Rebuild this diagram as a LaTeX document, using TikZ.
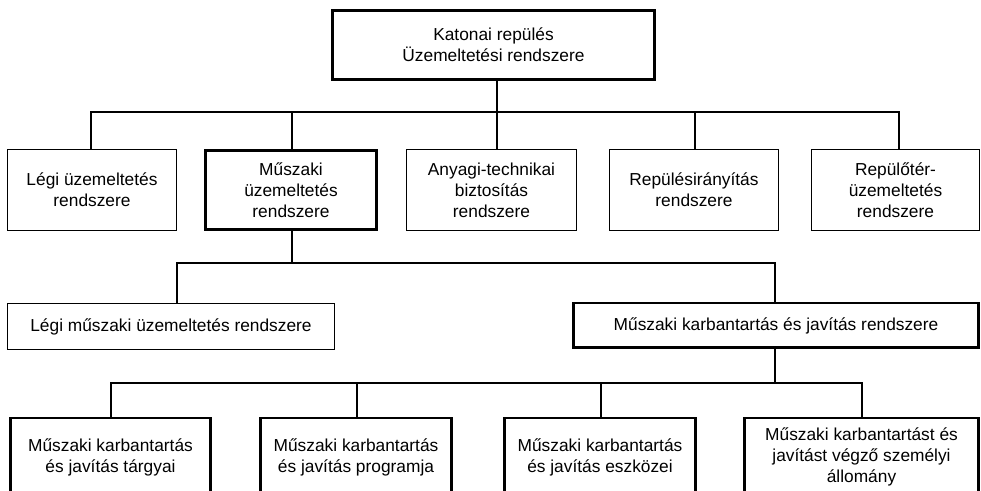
\documentclass[tikz,border=0pt]{standalone}
\usepackage{fontspec}
\setmainfont{Liberation Sans}
\tikzset{
  box/.style={draw, line width=0.8pt, align=center, inner sep=0pt, font=\fontsize{13}{15.75}\selectfont},
  tbox/.style={box, line width=2.2pt},
  mbox/.style={box, line width=1.9pt},
  thinline/.style={line width=0.8pt},
  thkline/.style={line width=2.2pt},
  mline/.style={line width=1.9pt},
}
\begin{document}
\begin{tikzpicture}[x=0.75pt,y=-0.75pt]
\useasboundingbox (0,0) rectangle (981,491);
\clip (0,0) rectangle (981,491);
% nodes
\node[tbox, minimum width=241.5pt, minimum height=51.75pt] (top) at (493.5,45) {Katonai repülés\\Üzemeltetési rendszere};
\node[box, minimum width=126.75pt, minimum height=60.75pt] (legi) at (92,190) {Légi üzemeltetés\\rendszere};
\node[tbox, minimum width=128.25pt, minimum height=59.25pt] (musz) at (291,190) {Műszaki\\üzemeltetés\\rendszere};
\node[box, minimum width=127.5pt, minimum height=60.75pt] (anyag) at (491.5,190) {Anyagi-technikai\\biztosítás\\rendszere};
\node[box, minimum width=126.75pt, minimum height=60.75pt] (repir) at (694,190) {Repülésirányítás\\rendszere};
\node[box, minimum width=126pt, minimum height=60.75pt] (rept) at (895.5,190) {Repülőtér-\\üzemeltetés\\rendszere};
\node[box, minimum width=245.25pt, minimum height=34.5pt] (legimu) at (171,326.5) {Légi műszaki üzemeltetés rendszere};
\node[mbox, minimum width=304pt, minimum height=33.4pt] (mkj) at (776,325.5) {Műszaki karbantartás és javítás rendszere};
\node[tbox, minimum width=150pt, minimum height=58.5pt] (b1) at (110.5,457) {Műszaki karbantartás\\és javítás tárgyai};
\node[tbox, minimum width=143.25pt, minimum height=58.5pt] (b2) at (356,457) {Műszaki karbantartás\\és javítás programja};
\node[tbox, minimum width=143.25pt, minimum height=58.5pt] (b3) at (600,457) {Műszaki karbantartás\\és javítás eszközei};
\node[tbox, minimum width=175.5pt, minimum height=58.5pt] (b4) at (861.5,457) {Műszaki karbantartást és\\javítást végző személyi\\állomány};
% junctions
\coordinate (k1) at (91,112);
\coordinate (k2) at (292,112);
\coordinate (k3) at (497,112);
\coordinate (k4) at (695,112);
\coordinate (k5) at (899,112);
\coordinate (m1) at (177,263);
\coordinate (m2) at (292,263);
\coordinate (m3) at (775,263);
\coordinate (n0) at (775,383);
\coordinate (n1) at (111,383);
\coordinate (n2) at (357,383);
\coordinate (n3) at (601,383);
\coordinate (n4) at (862,383);
% thin connectors
\draw[thinline] (legi.north -| k1) -- (k1) -- (k5) -- (rept.north -| k5);
\draw[thinline] (k3) -- (anyag.north -| k3);
\draw[thinline] (k4) -- (repir.north -| k4);
\draw[thinline] (legimu.north -| m1) -- (m1) -- (m2);
% thick connectors
\draw[thkline] (top.south -| k3) -- (k3) -- (k2) -- (musz.north -| k2);
\draw[thkline] (musz.south -| m2) -- (m2) -- (m3) -- (mkj.north -| m3);
\draw[mline] (mkj.south -| n0) -- (n0);
\draw[thkline] (b1.north -| n1) -- (n1) -- (n4) -- (b4.north -| n4);
\draw[thkline] (n2) -- (b2.north -| n2);
\draw[thkline] (n3) -- (b3.north -| n3);
\end{tikzpicture}
\end{document}
